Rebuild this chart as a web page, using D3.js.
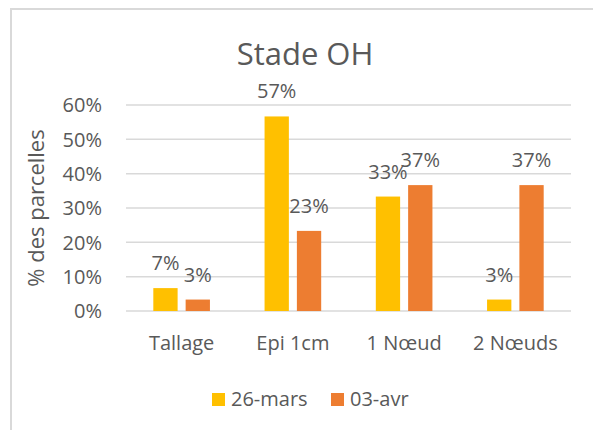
<!DOCTYPE html>
<html>
<head>
<meta charset="utf-8">
<script src="https://cdn.jsdelivr.net/npm/d3@7"></script>
<style>
  html, body { margin: 0; padding: 0; background: #fff; }
  text { font-family: "Open Sans", "DejaVu Sans", sans-serif; fill: #595959; }
</style>
</head>
<body>
<div id="chart"></div>
<script>
// Data (share of 30 plots per stage)
const categories = ["Tallage", "Epi 1cm", "1 Nœud", "2 Nœuds"];
const seriesNames = ["26-mars", "03-avr"];
const valuesMars = [2 / 30, 17 / 30, 10 / 30, 1 / 30];
const valuesAvr = [1 / 30, 7 / 30, 11 / 30, 11 / 30];
const yTicks = [0, 0.1, 0.2, 0.3, 0.4, 0.5, 0.6];
const seriesColors = ["#FFC000", "#ED7D31"];

const width = 593, height = 430;
const plot = { left: 126, right: 571, top: 105, bottom: 311 };

const svg = d3.select("#chart").append("svg")
    .attr("width", width)
    .attr("height", height);

// Chart frame (cropped on the right and bottom in the reference)
svg.append("rect")
   .attr("x", 11).attr("y", 9)
   .attr("width", 640).attr("height", 480)
   .attr("fill", "none")
   .attr("stroke", "#d9d9d9")
   .attr("stroke-width", 2);

// Scales
const x0 = d3.scaleBand()
             .domain(categories)
             .range([plot.left, plot.right])
             .paddingInner(0.491)
             .paddingOuter(0.2455);
const x1 = d3.scaleBand()
             .domain(seriesNames)
             .range([0, x0.bandwidth()])
             .paddingInner(0.248);
const y = d3.scaleLinear()
            .domain([0, 0.6])
            .range([plot.bottom, plot.top]);

// Gridlines
svg.append("g")
   .selectAll("line")
   .data(yTicks)
   .enter()
   .append("line")
   .attr("x1", plot.left)
   .attr("x2", plot.right)
   .attr("y1", d => y(d))
   .attr("y2", d => y(d))
   .attr("stroke", "#d9d9d9")
   .attr("stroke-width", 1.5);

// Y tick labels
svg.append("g")
   .selectAll("text")
   .data(yTicks)
   .enter()
   .append("text")
   .attr("x", plot.left - 24)
   .attr("y", d => y(d))
   .attr("dy", "0.36em")
   .attr("text-anchor", "end")
   .style("font-size", "20px")
   .text(d => d3.format(".0%")(d));

// Y axis title
svg.append("text")
   .attr("transform", "translate(44," + ((plot.top + plot.bottom) / 2) + ") rotate(-90)")
   .attr("text-anchor", "middle")
   .style("font-size", "22px")
   .text("% des parcelles");

// Chart title
svg.append("text")
   .attr("x", 305)
   .attr("y", 65)
   .attr("text-anchor", "middle")
   .style("font-size", "31px")
   .text("Stade OH");

// Category labels
svg.append("g")
   .selectAll("text")
   .data(categories)
   .enter()
   .append("text")
   .attr("x", d => x0(d) + x0.bandwidth() / 2)
   .attr("y", plot.bottom + 39)
   .attr("text-anchor", "middle")
   .style("font-size", "20px")
   .text(d => d);

// Bars and value labels
const seriesData = [valuesMars, valuesAvr];
seriesData.forEach(function (values, s) {
    const rows = categories.map((c, i) => ({ category: c, value: values[i] }));
    const g = svg.append("g");
    g.selectAll("rect")
     .data(rows)
     .enter()
     .append("rect")
     .attr("x", d => x0(d.category) + x1(seriesNames[s]))
     .attr("y", d => y(d.value))
     .attr("width", x1.bandwidth())
     .attr("height", d => y(0) - y(d.value))
     .attr("fill", seriesColors[s]);
    g.selectAll("text")
     .data(rows)
     .enter()
     .append("text")
     .attr("x", d => x0(d.category) + x1(seriesNames[s]) + x1.bandwidth() / 2)
     .attr("y", d => y(d.value) - 18)
     .attr("text-anchor", "middle")
     .style("font-size", "20px")
     .text(d => d3.format(".0%")(d.value));
});

// Legend
const legend = svg.append("g").attr("transform", "translate(212,393)");
const legendX = [0, 119];
seriesNames.forEach(function (name, s) {
    legend.append("rect")
          .attr("x", legendX[s])
          .attr("y", 0)
          .attr("width", 13)
          .attr("height", 13)
          .attr("fill", seriesColors[s]);
    legend.append("text")
          .attr("x", legendX[s] + 19)
          .attr("y", 13)
          .style("font-size", "20px")
          .text(name);
});
</script>
</body>
</html>
